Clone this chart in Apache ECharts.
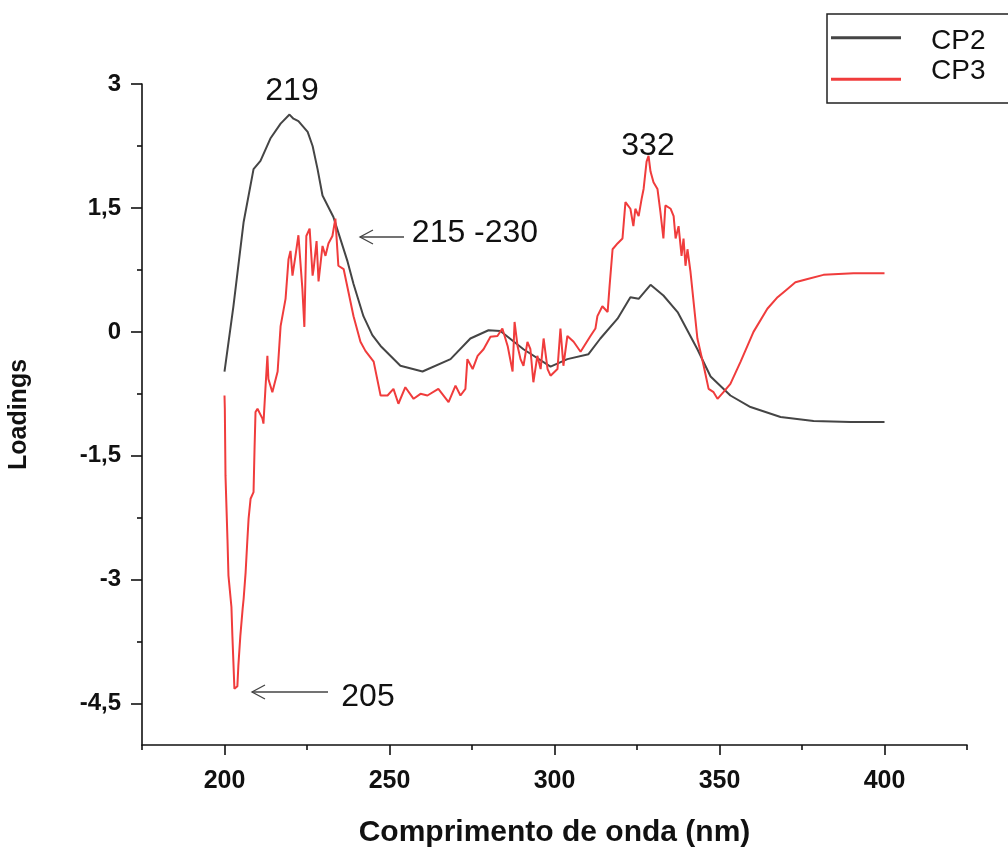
<!DOCTYPE html>
<html><head><meta charset="utf-8">
<script src="https://cdn.jsdelivr.net/npm/echarts@6/dist/echarts.min.js"></script>
<style>html,body{margin:0;padding:0;background:#fff}#c{width:1008px;height:850px}</style>
</head><body><div id="c"></div>
<script>
// Wavelength (nm) and loadings for CP2
const cp2Wave = [200,202.7,205.8,208.8,210.9,213.9,217.0,219.7,220.9,222.4,225.2,226.7,228.2,229.7,233.0,237.3,239.1,242.1,244.8,247.3,253.3,260.0,268.5,274.5,280.0,283.6,290.6,298.8,303.9,310.3,313.9,319.1,323.0,325.5,329.1,333.0,337.3,343.3,347.3,353.3,359.4,368.5,378.5,389.7,400];
const cp2Vals = [-0.48,0.31,1.33,1.97,2.07,2.34,2.52,2.63,2.58,2.55,2.42,2.25,1.97,1.65,1.39,0.85,0.58,0.19,-0.04,-0.17,-0.41,-0.48,-0.33,-0.08,0.02,0.01,-0.21,-0.42,-0.33,-0.27,-0.08,0.16,0.42,0.40,0.57,0.44,0.24,-0.21,-0.54,-0.77,-0.91,-1.03,-1.08,-1.09,-1.09];
// Wavelength (nm) and loadings for CP3
const cp3Wave = [200,200.1,200.3,200.9,201.2,202.1,202.4,202.7,203.0,203.9,204.2,204.8,205.5,205.8,206.4,206.9,207.3,207.9,208.8,209.1,209.4,210.0,211.5,211.8,212.4,213.0,213.3,214.5,216.1,217.0,218.5,219.4,220.0,220.6,221.5,222.4,223.0,223.6,224.2,224.8,225.8,226.7,227.0,227.9,228.5,229.7,230.6,231.5,232.7,233.6,234.5,236.1,239.1,241.2,242.7,245.2,247.3,249.4,251.2,252.7,254.8,257.3,259.4,261.5,264.8,267.9,270.0,271.5,273.0,273.6,275.2,276.7,278.5,280.6,282.7,284.2,285.8,287.3,287.9,288.8,289.7,290.6,291.8,292.7,293.6,294.8,295.8,296.7,297.9,298.8,300.9,301.8,302.7,303.9,305.8,307.9,310.9,312.4,313.0,314.5,316.1,316.7,317.6,319.1,320.6,321.5,323.0,323.9,324.5,325.5,326.4,327.0,327.9,328.5,329.1,330.0,331.2,332.1,333.0,333.6,335.2,336.1,336.7,337.6,338.5,339.1,339.7,340.3,341.2,343.3,345.2,346.7,348.2,349.4,351.2,353.3,356.4,360.3,364.5,367.6,370.6,373.0,376.7,381.5,390.6,400];
const cp3Vals = [-0.77,-0.93,-1.74,-2.51,-2.95,-3.33,-3.69,-4.00,-4.32,-4.29,-4.04,-3.68,-3.35,-3.23,-2.91,-2.54,-2.26,-2.02,-1.94,-1.42,-0.97,-0.93,-1.05,-1.11,-0.69,-0.29,-0.57,-0.73,-0.48,0.07,0.40,0.88,0.98,0.68,0.92,1.17,1.16,0.52,0.06,1.16,1.25,0.68,0.76,1.10,0.61,1.04,0.92,1.07,1.16,1.37,0.80,0.76,0.19,-0.12,-0.23,-0.36,-0.77,-0.77,-0.69,-0.87,-0.67,-0.81,-0.75,-0.77,-0.69,-0.85,-0.65,-0.77,-0.69,-0.33,-0.45,-0.29,-0.21,-0.06,-0.05,0.04,-0.17,-0.48,0.12,-0.17,-0.33,-0.41,-0.12,-0.21,-0.61,-0.29,-0.45,-0.08,-0.45,-0.53,-0.45,0.04,-0.41,-0.05,-0.12,-0.24,-0.05,0.04,0.19,0.31,0.24,0.56,1.00,1.07,1.13,1.57,1.49,1.28,1.49,1.40,1.61,1.73,2.06,2.13,1.94,1.81,1.73,1.45,1.13,1.53,1.49,1.40,1.13,1.28,0.92,1.13,0.80,1.00,0.73,-0.08,-0.41,-0.69,-0.73,-0.81,-0.73,-0.63,-0.36,0.00,0.28,0.42,0.52,0.60,0.64,0.69,0.71,0.71];
// Tick values
const xMajorTicks = [200,250,300,350,400];
const xMinorTicks = [175,225,275,325,375,425];
const yMajorTicks = [3,1.5,0,-1.5,-3,-4.5];
const yMinorTicks = [2.25,0.75,-0.75,-2.25,-3.75];
const seriesNames = ['CP2','CP3'];

const zip = (a,b) => a.map((v,i)=>[v,b[i]]);
const font = '"Liberation Sans", Arial, sans-serif';
const chart = echarts.init(document.getElementById('c'), null, {renderer:'canvas'});
const axisCommon = {min:175,max:425};
const arrowStyle = {stroke:'#444', lineWidth:1.3, fill:null};
const txt = (s,x,y) => ({type:'text',x:x,y:y,style:{text:s,font:'32px '+font,fill:'#111',align:'center',verticalAlign:'middle'}});
chart.setOption({
  animation:false,
  backgroundColor:'#fff',
  grid:{left:142,right:41,top:84,bottom:105,outerBoundsMode:'none',containLabel:false},
  legend:{
    left:827, top:14, orient:'vertical',
    data:[
      {name:seriesNames[0],icon:'path://M0,0 M0,9.5 L70,9.5 L70,12.5 L0,12.5 Z M70,30'},
      {name:seriesNames[1],icon:'path://M0,0 M0,21.1 L70,21.1 L70,24.1 L0,24.1 Z M70,30'}
    ],
    itemWidth:70, itemHeight:30, itemGap:0,
    borderColor:'#222', borderWidth:1.5,
    padding:[12.7,60,16.3,4],
    textStyle:{fontFamily:font,fontSize:28,lineHeight:30,color:'#111',padding:[0,0,0,25]}
  },
  xAxis:[
    Object.assign({type:'value',
      axisLine:{show:true,onZero:false,lineStyle:{color:'#111',width:1.6}},
      splitLine:{show:false},
      axisTick:{show:true,length:10,customValues:xMajorTicks,lineStyle:{color:'#111',width:1.6}},
      axisLabel:{customValues:xMajorTicks,margin:24,fontFamily:font,fontSize:25,fontWeight:'bold',color:'#111'},
      name:'Comprimento de onda (nm)',nameLocation:'middle',nameGap:73,
      nameTextStyle:{fontFamily:font,fontSize:30,fontWeight:'bold',color:'#111'}
    },axisCommon),
    Object.assign({type:'value',position:'bottom',
      axisLine:{show:false,onZero:false},splitLine:{show:false},
      axisTick:{show:true,length:5,customValues:xMinorTicks,lineStyle:{color:'#111',width:1.6}},
      axisLabel:{show:false}
    },axisCommon)
  ],
  yAxis:[
    {type:'value',min:-5,max:3,
      axisLine:{show:true,onZero:false,lineStyle:{color:'#111',width:1.6}},
      splitLine:{show:false},
      axisTick:{show:true,length:11,customValues:yMajorTicks,lineStyle:{color:'#111',width:1.6}},
      axisLabel:{customValues:yMajorTicks,margin:21,fontFamily:font,fontSize:24,fontWeight:'bold',color:'#111',
        formatter:v=>String(v).replace('.',',')},
      name:'Loadings',nameLocation:'middle',nameGap:110,
      nameTextStyle:{fontFamily:font,fontSize:25,fontWeight:'bold',color:'#111'}
    },
    {type:'value',min:-5,max:3,position:'left',
      axisLine:{show:false,onZero:false},splitLine:{show:false},
      axisTick:{show:true,length:5,customValues:yMinorTicks,lineStyle:{color:'#111',width:1.6}},
      axisLabel:{show:false}
    }
  ],
  series:[
    {name:seriesNames[0],type:'line',xAxisIndex:0,yAxisIndex:0,data:zip(cp2Wave,cp2Vals),
      symbol:'none',lineStyle:{color:'#454545',width:2},itemStyle:{color:'#454545'}},
    {name:seriesNames[1],type:'line',xAxisIndex:0,yAxisIndex:0,data:zip(cp3Wave,cp3Vals),
      symbol:'none',lineStyle:{color:'#f03c3c',width:2},itemStyle:{color:'#f03c3c'}}
  ],
  graphic:[
    txt('219',292,91),
    txt('332',648,146),
    txt('215 -230',475,233),
    txt('205',368,697),
    {type:'polyline',shape:{points:[[404,237],[360,237]]},style:arrowStyle},
    {type:'polyline',shape:{points:[[373,230],[360,237],[373,244]]},style:arrowStyle},
    {type:'polyline',shape:{points:[[328,692],[252,692]]},style:arrowStyle},
    {type:'polyline',shape:{points:[[265,685],[252,692],[265,699]]},style:arrowStyle}
  ]
});
</script></body></html>
